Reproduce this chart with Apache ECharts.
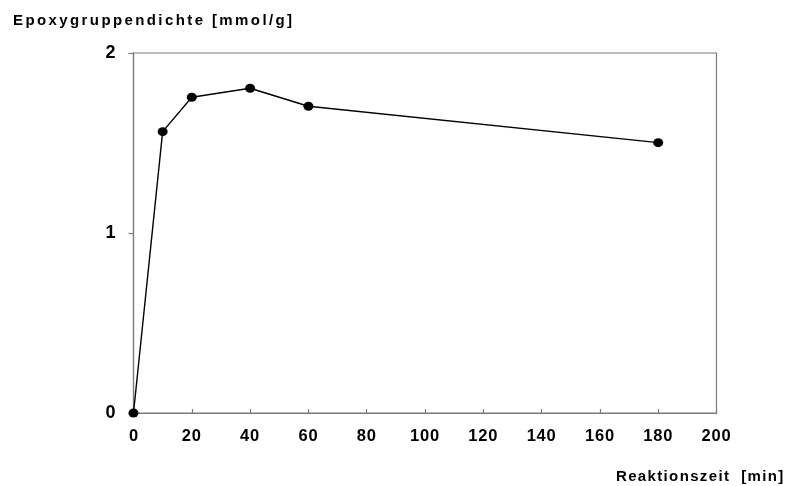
<!DOCTYPE html>
<html>
<head>
<meta charset="utf-8">
<script src="https://cdn.jsdelivr.net/npm/echarts@6/dist/echarts.min.js"></script>
<style>html,body{margin:0;padding:0;background:#fff;}#c{width:799px;height:486px;}</style>
</head>
<body>
<div id="c"></div>
<script>
const reactionTime = [0, 10, 20, 40, 60, 180];
const epoxyDensity = [0, 1.563, 1.754, 1.804, 1.704, 1.502];
const yTitle = 'Epoxygruppendichte [mmol/g]';
const xTitle = 'Reaktionszeit  [min]';

// letter spacing for the wide-tracked lettering of the original
const spacing = {};
spacing[yTitle] = '2.4px';
spacing[xTitle] = '1.35px';
const origFill = CanvasRenderingContext2D.prototype.fillText;
CanvasRenderingContext2D.prototype.fillText = function (t, x, y, m) {
  const s = String(t);
  if ('letterSpacing' in this) {
    if (spacing[s]) this.letterSpacing = spacing[s];
    else if (/^\d{2,}$/.test(s)) this.letterSpacing = '0.8px';
    else this.letterSpacing = '0px';
  }
  return m === undefined ? origFill.call(this, t, x, y) : origFill.call(this, t, x, y, m);
};

const chart = echarts.init(document.getElementById('c'), null, {renderer: 'canvas'});
const font = 'Liberation Sans, Arial, sans-serif';
chart.setOption({
  animation: false,
  backgroundColor: '#ffffff',
  grid: {left: 133.5, right: 82.5, top: 53, bottom: 73, show: true, borderColor: '#7a7a7a', borderWidth: 1.2, backgroundColor: 'transparent'},
  xAxis: {
    type: 'value', min: 0, max: 200, interval: 20,
    axisLine: {show: true, lineStyle: {color: '#7a7a7a', width: 1.2}},
    axisTick: {show: true, inside: true, length: 4, lineStyle: {color: '#7a7a7a', width: 1.2}},
    axisLabel: {color: '#000', fontFamily: font, fontWeight: 'bold', fontSize: 16.5, margin: 15},
    splitLine: {show: false}
  },
  yAxis: {
    type: 'value', min: 0, max: 2, interval: 1,
    axisLine: {show: true, lineStyle: {color: '#7a7a7a', width: 1.2}},
    axisTick: {show: true, inside: false, length: 5, lineStyle: {color: '#7a7a7a', width: 1.2}},
    axisLabel: {color: '#000', fontFamily: font, fontWeight: 'bold', fontSize: 18, margin: 18},
    splitLine: {show: false}
  },
  graphic: [
    {type: 'text', left: 13, top: 13, style: {text: yTitle, font: 'bold 15px ' + font, fill: '#000'}},
    {type: 'text', left: 616, top: 469, style: {text: xTitle, font: 'bold 15px ' + font, fill: '#000'}}
  ],
  series: [{
    type: 'line',
    data: reactionTime.map((t, i) => [t, epoxyDensity[i]]),
    symbol: 'circle', symbolSize: [10, 9],
    itemStyle: {color: '#000'},
    lineStyle: {color: '#000', width: 1.4},
    clip: false
  }]
});
</script>
</body>
</html>
